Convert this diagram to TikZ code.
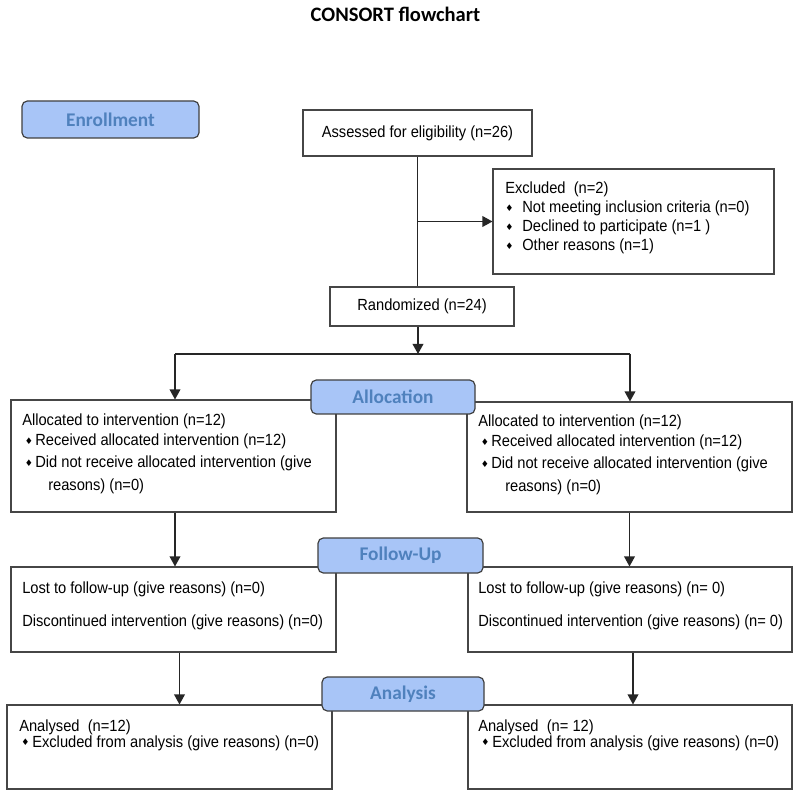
\documentclass[tikz,border=0pt]{standalone}
\usepackage{fontspec}
\usepackage{graphicx}
\setmainfont{Liberation Sans}[FakeStretch=0.91]
\newfontfamily\carl{Carlito}
\newfontfamily\dv{DejaVu Sans}
\usetikzlibrary{arrows.meta}
\definecolor{lblfill}{RGB}{168,197,247}
\definecolor{lbltext}{RGB}{79,129,189}
\definecolor{boxline}{RGB}{70,70,70}
\newcommand{\bl}[1]{\makebox[#1][l]{\raisebox{0.8pt}{\dv\fontsize{6.8}{7}\selectfont ♦}}}
\begin{document}
\begin{tikzpicture}[x=0.75pt,y=-0.75pt,
  sz/.style 2 args={minimum width=#1*0.75pt,minimum height=#2*0.75pt},
  box/.style={draw=boxline,line width=0.8pt,inner sep=0pt,fill=white,font=\fontsize{12.1}{14}\selectfont},
  lbl/.style={draw=black!75,line width=0.9pt,fill=lblfill,rounded corners=4pt,inner sep=0pt,
    text=lbltext,font=\carl\bfseries\fontsize{14.5}{16}\selectfont},
  txt/.style={anchor=base west,inner sep=0pt,font=\fontsize{12.1}{14}\selectfont},
  conn/.style={draw=black!85,line width=1pt},
  arr/.style={conn,-{Triangle[length=7.5pt,width=8pt]}}]
\useasboundingbox (0,0) rectangle (800,798);
\fill[white] (0,0) rectangle (800,798);

\node[anchor=base,inner sep=0pt,font=\carl\bfseries\fontsize{15.4}{18}\selectfont] (title) at (395.5,22) {CONSORT flowchart};

% boxes
\node[box,sz={229}{46}] (assess) at (417.5,133) {Assessed for eligibility (n=26)};
\node[box,sz={281}{105}] (excl) at (633.5,221.5) {};
\node[box,sz={184}{39}] (rand) at (422,306.5) {Randomized (n=24)};
\node[box,sz={325}{112}] (allocL) at (173.5,456) {};
\node[box,sz={325}{110}] (allocR) at (629.5,457) {};
\node[box,sz={325}{85}] (followL) at (173.5,609.5) {};
\node[box,sz={324}{85}] (followR) at (630,609.5) {};
\node[box,sz={325}{84}] (anaL) at (169.5,747) {};
\node[box,sz={324}{84}] (anaR) at (630,747) {};

% texts: excluded
\node[txt] (exT) at (505,194) {Excluded\ \ (n=2)};
\node[txt] (ex1) at (505,213) {\bl{12.75pt}Not meeting inclusion criteria (n=0)};
\node[txt] (ex2) at (505,232) {\bl{12.75pt}Declined to participate (n=1 )};
\node[txt] (ex3) at (505,251) {\bl{12.75pt}Other reasons (n=1)};

% allocation texts
\node[txt] (aLT) at (22,426) {Allocated to intervention (n=12)};
\node[txt] (aL1) at (24.5,446) {\bl{7.9pt}Received allocated intervention (n=12)};
\node[txt] (aL2) at (24.5,468) {\bl{7.9pt}Did not receive allocated intervention (give};
\node[txt] (aL3) at (48,491) {reasons) (n=0)};
\node[txt] (aRT) at (478,427) {Allocated to intervention (n=12)};
\node[txt] (aR1) at (480.5,447) {\bl{7.9pt}Received allocated intervention (n=12)};
\node[txt] (aR2) at (480.5,469) {\bl{7.9pt}Did not receive allocated intervention (give};
\node[txt] (aR3) at (505,492) {reasons) (n=0)};

% follow-up texts
\node[txt] (fL1) at (22,593) {Lost to follow-up (give reasons) (n=0)};
\node[txt] (fL2) at (22,626) {Discontinued intervention (give reasons) (n=0)};
\node[txt] (fR1) at (478,593) {Lost to follow-up (give reasons) (n= 0)};
\node[txt] (fR2) at (478,626) {Discontinued intervention (give reasons) (n= 0)};

% analysis texts
\node[txt] (nLT) at (19,731) {Analysed\ \ (n=12)};
\node[txt] (nL1) at (21,747) {\bl{8.25pt}Excluded from analysis (give reasons) (n=0)};
\node[txt] (nRT) at (478,731) {Analysed\ \ (n= 12)};
\node[txt] (nR1) at (481,747) {\bl{8.25pt}Excluded from analysis (give reasons) (n=0)};

% connectors
\coordinate (splitC) at (418,354);
\coordinate (splitL) at (175,354);
\coordinate (splitR) at (630,354);
\coordinate (cL2) at (179.5,0);
\coordinate (cR2) at (633,0);
\draw[conn] (assess.south) -- (assess.south |- rand.north);
\draw[arr] (assess.south |- excl.west) -- (excl.west);
\draw[arr] (splitC |- rand.south) -- (splitC);
\draw[conn] (splitL) -- (splitR);
\draw[arr] (splitL) -- (splitL |- allocL.north);
\draw[arr] (splitR) -- (splitR |- allocR.north);
\draw[arr] (splitL |- allocL.south) -- (splitL |- followL.north);
\draw[arr] (allocR.south) -- (allocR.south |- followR.north);
\draw[arr] (cL2 |- followL.south) -- (cL2 |- anaL.north);
\draw[arr] (cR2 |- followR.south) -- (cR2 |- anaR.north);

% stage labels
\node[lbl,sz={177}{37}] (enroll) at (110.5,119.5) {Enrollment};
\node[lbl,sz={164}{34}] (alloc) at (393,397) {Allocation};
\node[lbl,sz={165}{35}] (follow) at (400.5,555.5) {Follow-Up};
\node[lbl,sz={162}{34}] (analysis) at (403,694) {Analysis};
\end{tikzpicture}
\end{document}
